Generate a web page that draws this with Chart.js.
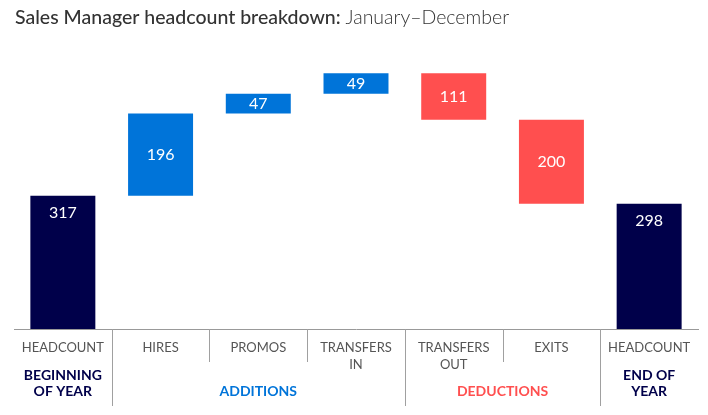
<!DOCTYPE html>
<html lang="en">
<head>
    <meta charset="UTF-8">
    <title>Sales Manager headcount breakdown</title>
    <script src="https://cdn.jsdelivr.net/npm/chart.js"></script>
    <style>
        body { margin: 0; background: #fff; }
        canvas { display: block; }
    </style>
</head>
<body>
    <canvas id="chartCanvas" width="708" height="415"></canvas>

    <script>
        // chart data
        const categories = [['HEADCOUNT'], ['HIRES'], ['PROMOS'], ['TRANSFERS', 'IN'], ['TRANSFERS', 'OUT'], ['EXITS'], ['HEADCOUNT']];
        const changes = [317, 196, 47, 49, -111, -200, 298];
        const kinds = ['total', 'add', 'add', 'add', 'deduct', 'deduct', 'total'];
        const groupLabels = [['BEGINNING', 'OF YEAR'], ['ADDITIONS'], ['DEDUCTIONS'], ['END OF', 'YEAR']];
        const groupFirst = [0, 1, 4, 6];
        const groupLast = [0, 3, 5, 6];
        const groupKinds = ['total', 'add', 'deduct', 'total'];

        const colors = { total: '#00004a', add: '#0074d9', deduct: '#ff4f4f' };
        const FONT = 'Lato, "Open Sans", sans-serif';

        // floating ranges for the waterfall
        const ranges = [];
        let running = 0;
        changes.forEach((v, i) => {
            if (kinds[i] === 'total') {
                ranges.push([0, v]);
                running = v;
            } else {
                ranges.push([running, running + v]);
                running += v;
            }
        });

        const groupOf = i => groupFirst.findIndex((f, g) => i >= f && i <= groupLast[g]);

        const extras = {
            id: 'extras',
            afterDraw(chart) {
                const { ctx, chartArea } = chart;
                const x = chart.scales.x;
                const meta = chart.getDatasetMeta(0);
                ctx.save();

                // title
                ctx.fillStyle = '#333';
                ctx.textBaseline = 'alphabetic';
                ctx.textAlign = 'left';
                const t1 = 'Sales Manager headcount breakdown: ';
                ctx.font = '500 19.5px ' + FONT;
                ctx.fillText(t1, 15, 24);
                const w1 = ctx.measureText(t1).width;
                ctx.font = '300 19.5px ' + FONT;
                ctx.fillText('January\u2013December', 15 + w1, 24);

                // value labels
                ctx.fillStyle = '#fff';
                ctx.font = '16px ' + FONT;
                ctx.textAlign = 'center';
                ctx.textBaseline = 'middle';
                meta.data.forEach((bar, i) => {
                    const top = Math.min(bar.y, bar.base);
                    const bottom = Math.max(bar.y, bar.base);
                    const y = kinds[i] === 'total' ? top + 17 : (top + bottom) / 2;
                    ctx.fillText(String(Math.abs(changes[i])), bar.x, y);
                });

                // separators
                ctx.strokeStyle = '#a0a0a0';
                ctx.lineWidth = 1;
                for (let i = 0; i < categories.length - 1; i++) {
                    const sx = Math.round((x.getPixelForValue(i) + x.getPixelForValue(i + 1)) / 2) + 0.5;
                    const full = groupOf(i) !== groupOf(i + 1);
                    ctx.beginPath();
                    ctx.moveTo(sx, chartArea.bottom);
                    ctx.lineTo(sx, full ? 406 : 362);
                    ctx.stroke();
                }

                // group labels
                ctx.font = 'bold 14px ' + FONT;
                ctx.textBaseline = 'middle';
                groupLabels.forEach((lines, g) => {
                    const cx = (x.getPixelForValue(groupFirst[g]) + x.getPixelForValue(groupLast[g])) / 2;
                    ctx.fillStyle = colors[groupKinds[g]];
                    const startY = lines.length > 1 ? 375 : 391;
                    lines.forEach((line, k) => ctx.fillText(line, cx, startY + k * 16));
                });

                ctx.restore();
            }
        };

        const ctx = document.getElementById('chartCanvas').getContext('2d');
        const chart = new Chart(ctx, {
            type: 'bar',
            data: {
                labels: categories,
                datasets: [{
                    data: ranges,
                    backgroundColor: kinds.map(k => colors[k]),
                    borderWidth: 0,
                    borderSkipped: false,
                    categoryPercentage: 1,
                    barPercentage: 0.665,
                }],
            },
            options: {
                responsive: false,
                animation: false,
                layout: { padding: { left: 14, right: 10, top: 35, bottom: 0 } },
                plugins: {
                    legend: { display: false },
                    tooltip: { enabled: false },
                },
                scales: {
                    y: {
                        display: false,
                        min: 0,
                        max: 700,
                    },
                    x: {
                        grid: { display: false },
                        border: { display: true, color: '#999', width: 1 },
                        ticks: {
                            color: '#555',
                            font: { family: FONT, size: 13, lineHeight: 1.25 },
                            padding: 3,
                            maxRotation: 0,
                            autoSkip: false,
                        },
                        afterFit(scale) { scale.height = 86; },
                    },
                },
            },
            plugins: [extras],
        });
    </script>
</body>
</html>
